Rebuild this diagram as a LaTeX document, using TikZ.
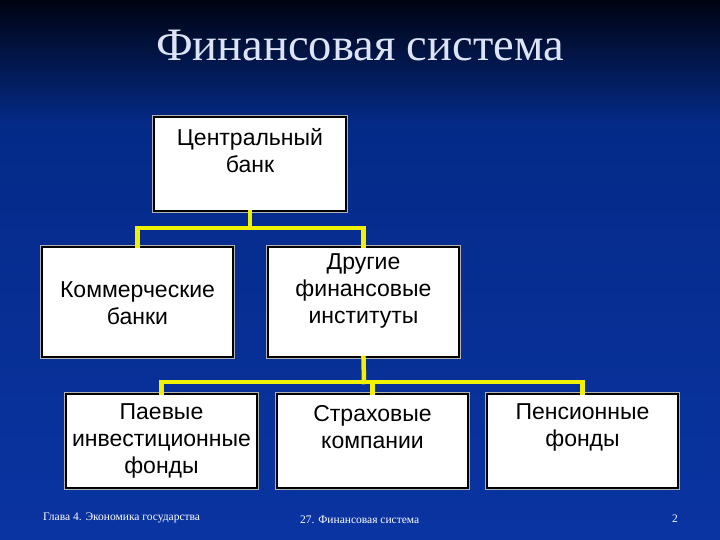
\documentclass[tikz,border=0pt]{standalone}
\usepackage{fontspec}
\setmainfont{Liberation Serif}
\newfontfamily\boxfont{Liberation Sans}
\definecolor{bgtop}{HTML}{000412}
\definecolor{bgmid}{HTML}{042A88}
\definecolor{bgbot}{HTML}{0A34A2}
\definecolor{titlecol}{HTML}{DDE4F6}
\definecolor{conncol}{HTML}{F2F200}
\begin{document}
\begin{tikzpicture}[x=1pt,y=-1pt,
  box/.style={rectangle, fill=white, draw=black, line width=1.8pt, inner sep=0pt,
    preaction={draw=gray!60, line width=3.6pt}},
  boxtext/.style={font=\boxfont\fontsize{23}{27}\selectfont, text=black, align=center, inner sep=0pt},
  conn/.style={draw=conncol, line width=4.5pt, line cap=rect},
  foot/.style={font=\fontsize{11.5}{13}\selectfont, text=white, inner sep=0pt}]
\useasboundingbox (0,0) rectangle (720,540);
\shade[top color=bgtop, bottom color=bgmid] (0,0) rectangle (720,125);
\shade[top color=bgmid, bottom color=bgbot] (0,125) rectangle (720,540);
% title
\node[font=\fontsize{46.5}{50}\selectfont, text=titlecol, inner sep=0pt] (title) at (360,46) {Финансовая система};
% boxes
\node[box, minimum width=192pt, minimum height=94pt] (cb) at (250,164) {};
\node[box, minimum width=191pt, minimum height=110pt] (cm) at (137.5,302) {};
\node[box, minimum width=191pt, minimum height=110pt] (ot) at (363.5,302) {};
\node[box, minimum width=191pt, minimum height=94pt] (pf) at (161.5,441) {};
\node[box, minimum width=191pt, minimum height=94pt] (sk) at (372.5,441) {};
\node[box, minimum width=191pt, minimum height=94pt] (pn) at (582.5,441) {};
% texts
\node[boxtext] (cbt) at (250,151) {Центральный\\банк};
\node[boxtext] (cmt) at (137.5,303) {Коммерческие\\банки};
\node[boxtext] (ott) at (363.5,291) {Другие\\финансовые\\институты};
\node[boxtext] (pft) at (161.5,441) {Паевые\\инвестиционные\\фонды};
\node[boxtext] (skt) at (372.5,427) {Страховые\\компании};
\node[boxtext] (pnt) at (582.5,427) {Пенсионные\\фонды};
% connectors
\coordinate (j1) at (250,228);
\coordinate (j2) at (364,382);
\draw[conn] (cb.south) -- (j1);
\draw[conn] (cm.north) |- (j1) -| (ot.north);
\draw[conn] (ot.south) -- (j2);
\draw[conn] (pf.north) |- (j2) -| (pn.north);
\draw[conn] (sk.north) -- (sk.north |- j2);
% footer
\node[foot, anchor=west] (f1) at (43,518) {Глава 4. Экономика государства};
\node[foot, anchor=west] (f2) at (300,520) {27. Финансовая система};
\node[foot] (f3) at (675,519) {2};
\end{tikzpicture}
\end{document}
